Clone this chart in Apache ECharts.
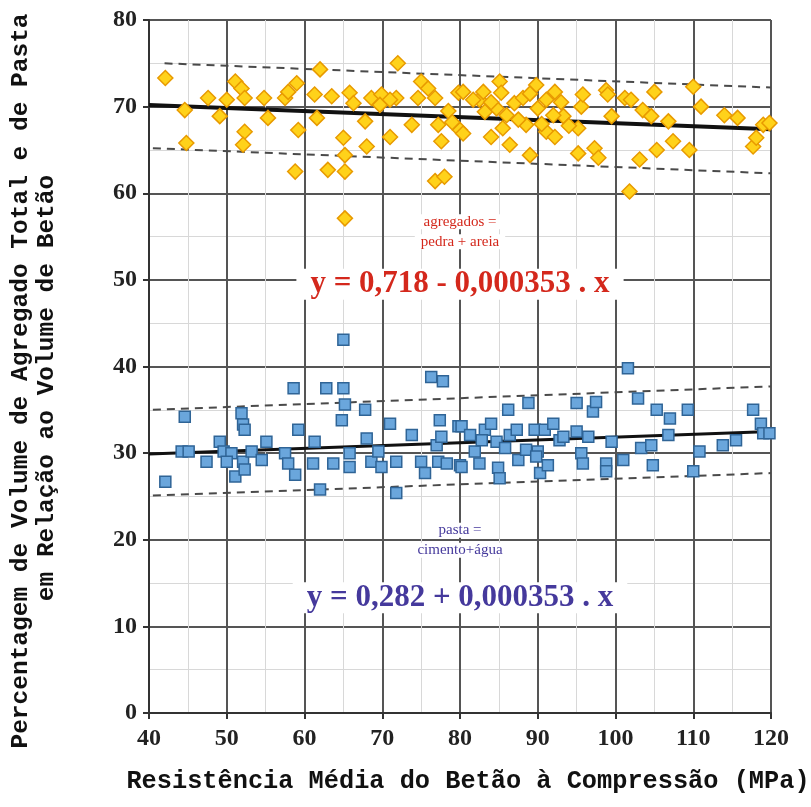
<!DOCTYPE html>
<html>
<head>
<meta charset="utf-8">
<script src="https://cdn.jsdelivr.net/npm/echarts@6/dist/echarts.min.js"></script>
<style>
  html, body { margin: 0; padding: 0; background: #fff; }
  #main { width: 811px; height: 807px; }
</style>
</head>
<body>
<div id="main"></div>
<script>
// pontos: agregados (pedra + areia)
const agregados = [
  [42.1, 73.3], [44.6, 69.6], [44.8, 65.8], [47.6, 71.0], [49.1, 68.9], [50.0, 70.8],
  [51.1, 72.9], [51.9, 72.1], [52.3, 71.0], [52.3, 67.1], [52.1, 65.6], [54.8, 71.0],
  [55.3, 68.7], [57.5, 71.0], [57.9, 71.7], [59.0, 72.7], [59.2, 67.3], [58.8, 62.5],
  [61.3, 71.4], [62.0, 74.3], [61.6, 68.7], [63.0, 62.7], [63.5, 71.2], [65.0, 66.4],
  [65.2, 64.4], [65.2, 62.5], [65.2, 57.1], [65.8, 71.6], [66.3, 70.4], [67.8, 68.3],
  [68.0, 65.4], [68.6, 71.0], [69.9, 71.4], [71.0, 66.5], [71.8, 71.0], [72.0, 75.0],
  [73.8, 67.9], [74.6, 71.0], [75.0, 72.9], [75.9, 72.1], [76.8, 71.0], [77.2, 67.9],
  [77.6, 66.0], [76.8, 61.4], [78.0, 61.9], [79.8, 71.6], [80.0, 67.3], [69.7, 70.2],
  [71.0, 70.8], [78.5, 69.5], [79.0, 68.2],
  [80.4, 71.7], [80.4, 66.9], [82.5, 70.8], [83.2, 69.4], [84.0, 66.5], [85.1, 72.9],
  [85.3, 71.6], [84.7, 69.8], [86.4, 65.6], [87.0, 70.4], [88.1, 71.0], [89.0, 64.4],
  [89.8, 72.5], [90.0, 69.8], [91.1, 70.8], [92.2, 71.7], [91.1, 67.1], [92.2, 66.5],
  [93.3, 68.9], [95.2, 67.5], [95.2, 64.6], [95.6, 70.0], [95.8, 71.4], [97.3, 65.2],
  [97.8, 64.1], [98.8, 71.9], [99.0, 71.4], [99.5, 68.9], [101.2, 71.0], [102.0, 70.8],
  [101.8, 60.2], [103.1, 63.9], [103.5, 69.6], [104.6, 68.9], [105.0, 71.7], [105.3, 65.0],
  [106.8, 68.3], [107.4, 66.0], [109.5, 65.0], [110.0, 72.3], [111.0, 70.0], [114.0, 69.0],
  [115.7, 68.7], [117.7, 65.4], [118.1, 66.4], [119.0, 67.9], [119.8, 68.1], [81.7, 70.8],
  [83.0, 71.7], [85.5, 67.5], [88.5, 67.9], [92.0, 69.0], [84.0, 70.5], [86.0, 69.0],
  [87.5, 68.5], [89.0, 71.5], [90.5, 68.0], [93.0, 70.5], [94.0, 67.8]
];

// pontos: pasta (cimento + água)
const pasta = [
  [42.1, 26.7], [44.6, 34.2], [44.2, 30.2], [45.1, 30.2], [47.4, 29.0], [49.1, 31.3],
  [49.6, 30.2], [50.6, 30.0], [50.0, 29.0], [51.1, 27.3], [51.9, 34.6], [52.1, 33.3],
  [52.3, 32.7], [52.1, 29.0], [52.3, 28.1], [53.2, 30.2], [54.5, 29.2], [55.1, 31.3],
  [57.5, 30.0], [57.9, 28.8], [58.8, 27.5], [58.6, 37.5], [59.2, 32.7], [61.3, 31.3],
  [61.1, 28.8], [62.0, 25.8], [62.8, 37.5], [63.7, 28.8], [65.0, 43.1], [65.0, 37.5],
  [65.2, 35.6], [64.8, 33.8], [65.8, 30.0], [65.8, 28.4], [67.8, 35.0], [68.0, 31.7],
  [68.6, 29.0], [69.9, 28.4], [69.5, 30.2], [71.0, 33.4], [71.8, 29.0], [71.8, 25.4],
  [73.8, 32.1], [75.0, 29.0], [75.5, 27.7], [76.3, 38.8], [77.8, 38.3], [77.4, 33.8],
  [77.0, 30.9], [77.2, 29.0], [78.3, 28.8], [79.8, 33.1], [80.0, 28.6], [77.6, 31.9],
  [80.2, 33.1], [80.2, 28.4], [81.3, 32.1], [81.9, 30.2], [82.5, 28.8], [83.2, 32.7],
  [84.0, 33.4], [84.7, 31.3], [84.9, 28.3], [85.1, 27.1], [85.8, 30.6], [86.2, 35.0],
  [86.4, 32.1], [87.3, 32.7], [87.5, 29.2], [88.5, 30.4], [88.8, 35.8], [89.6, 32.7],
  [90.0, 30.2], [90.3, 27.7], [90.9, 32.7], [91.3, 28.6], [92.0, 33.4], [92.8, 31.5],
  [93.3, 31.9], [95.0, 35.8], [95.0, 32.5], [95.6, 30.0], [95.8, 28.8], [96.5, 31.9],
  [97.1, 34.8], [97.5, 35.9], [98.8, 28.8], [98.8, 27.9], [99.5, 31.3], [101.0, 29.2],
  [101.6, 39.8], [102.9, 36.3], [103.3, 30.6], [104.6, 30.9], [104.8, 28.6], [105.3, 35.0],
  [107.0, 34.0], [106.8, 32.1], [109.3, 35.0], [110.0, 27.9], [110.8, 30.2], [113.8, 30.9],
  [115.5, 31.5], [117.7, 35.0], [118.7, 33.4], [119.0, 32.3], [119.8, 32.3], [89.8, 29.6],
  [82.8, 31.5]
];

// retas de regressão e limites (extremos)
const agregadosReta = [[40, 70.2], [120, 67.4]];
const agregadosSup = [[42, 75.0], [120, 72.2]];
const agregadosInf = [[40.5, 65.2], [120, 62.3]];
const pastaReta = [[40, 29.9], [120, 32.5]];
const pastaSup = [[40.5, 35.0], [120, 37.7]];
const pastaInf = [[40.5, 25.1], [120, 27.7]];

// anotações: [x, y, texto, estilo]
const notas = [
  [80, 56.7, 'agregados =', 'smallRed'],
  [80, 54.4, 'pedra + areia', 'smallRed'],
  [80, 49.5, 'y = 0,718 - 0,000353 . x', 'bigRed'],
  [80, 21.1, 'pasta =', 'smallBlue'],
  [80, 18.8, 'cimento+água', 'smallBlue'],
  [80, 13.3, 'y = 0,282 + 0,000353 . x', 'bigBlue']
];

const noteStyles = {
  smallRed: { fontFamily: 'Liberation Serif', fontSize: 15, color: '#d4281c', padding: [0, 6] },
  bigRed: { fontFamily: 'Liberation Serif', fontSize: 31, fontWeight: 'bold', color: '#d4281c', padding: [0, 14] },
  smallBlue: { fontFamily: 'Liberation Serif', fontSize: 15, color: '#45399c', padding: [0, 6] },
  bigBlue: { fontFamily: 'Liberation Serif', fontSize: 31, fontWeight: 'bold', color: '#45399c', padding: [0, 14] }
};

const myChart = echarts.init(document.getElementById('main'));

const dashed = (data) => ({
  type: 'line',
  data: data,
  showSymbol: false,
  silent: true,
  lineStyle: { color: '#4a4a4a', width: 2, type: [8, 6] },
  z: 3
});

const solid = (data, w) => ({
  type: 'line',
  data: data,
  showSymbol: false,
  silent: true,
  lineStyle: { color: '#111', width: w },
  z: 4
});

const titleText = (text, x, y, rot, size) => ({
  type: 'text',
  x: x,
  y: y,
  rotation: rot,
  style: {
    text: text,
    align: 'center',
    verticalAlign: 'middle',
    fontFamily: 'Liberation Mono',
    fontWeight: 'bold',
    fontSize: size,
    fill: '#111'
  }
});

const option = {
  backgroundColor: '#fff',
  animation: false,
  grid: { left: 149, right: 40, top: 20, bottom: 94 },
  xAxis: {
    type: 'value',
    min: 40,
    max: 120,
    interval: 10,
    axisLine: { show: true, lineStyle: { color: '#333', width: 2 } },
    axisTick: { show: true, length: 6, lineStyle: { color: '#333', width: 2 } },
    axisLabel: {
      margin: 14,
      fontFamily: 'Liberation Serif',
      fontWeight: 'bold',
      fontSize: 24,
      color: '#222'
    },
    splitLine: { show: true, lineStyle: { color: '#555', width: 2 } },
    minorTick: { show: false, splitNumber: 2 },
    minorSplitLine: { show: true, lineStyle: { color: '#d8d8d8', width: 1 } }
  },
  yAxis: {
    type: 'value',
    min: 0,
    max: 80,
    interval: 10,
    axisLine: { show: true, lineStyle: { color: '#333', width: 2 } },
    axisTick: { show: true, length: 6, lineStyle: { color: '#333', width: 2 } },
    axisLabel: {
      margin: 12,
      fontFamily: 'Liberation Serif',
      fontWeight: 'bold',
      fontSize: 24,
      color: '#222'
    },
    splitLine: { show: true, lineStyle: { color: '#555', width: 2 } },
    minorTick: { show: false, splitNumber: 2 },
    minorSplitLine: { show: true, lineStyle: { color: '#d8d8d8', width: 1 } }
  },
  graphic: [
    titleText('Percentagem de Volume de Agregado Total e de Pasta', 21, 381, Math.PI / 2, 24.5),
    titleText('em Relação ao Volume de Betão', 47, 388, Math.PI / 2, 24.5),
    titleText('Resistência Média do Betão à Compressão (MPa)', 468, 782, 0, 25.3)
  ],
  series: [
    dashed(agregadosSup),
    dashed(agregadosInf),
    dashed(pastaSup),
    dashed(pastaInf),
    {
      type: 'scatter',
      data: notas.map((n) => ({ value: [n[0], n[1]], label: noteStyles[n[3]] })),
      symbolSize: 0,
      silent: true,
      z: 2,
      itemStyle: { opacity: 1 },
      label: {
        show: true,
        position: 'inside',
        formatter: (p) => notas[p.dataIndex][2],
        backgroundColor: '#fff'
      },
      emphasis: { disabled: true }
    },
    {
      type: 'scatter',
      data: agregados,
      symbol: 'diamond',
      symbolSize: 15,
      itemStyle: { color: '#ffd21a', borderColor: '#e89a00', borderWidth: 1.5, opacity: 1 },
      z: 5
    },
    {
      type: 'scatter',
      data: pasta,
      symbol: 'rect',
      symbolSize: 11,
      itemStyle: { color: '#6aa6dc', borderColor: '#2f6496', borderWidth: 1.5, opacity: 1 },
      z: 5
    },
    solid(agregadosReta, 4),
    solid(pastaReta, 3)
  ]
};

myChart.setOption(option);
</script>
</body>
</html>
